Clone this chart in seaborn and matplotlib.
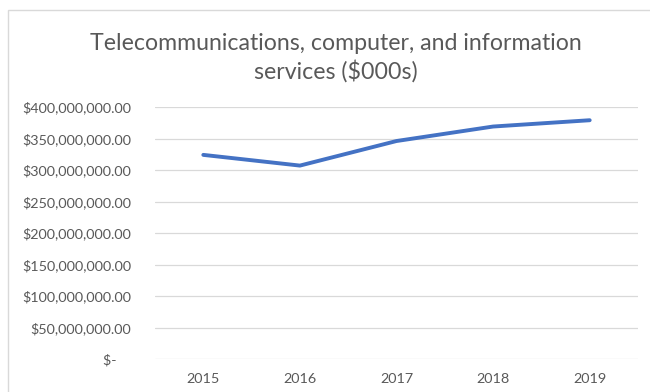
import matplotlib
matplotlib.use("Agg")
import matplotlib.pyplot as plt
import seaborn as sns
import pandas as pd
from matplotlib.patches import Rectangle
from matplotlib.ticker import FuncFormatter, MultipleLocator

years = ["2015", "2016", "2017", "2018", "2019"]
values = [324000000, 307000000, 346000000, 369000000, 379000000]
title = "Telecommunications, computer, and information\nservices ($000s)"

sns.set_theme(style="white")
plt.rcParams['font.family'] = ['Lato', 'DejaVu Sans']

df = pd.DataFrame({"year": years, "value": values})

fig = plt.figure(figsize=(6.5, 3.92), dpi=100)
ax = fig.add_axes([155/650, 1-359/392, (638-155)/650, (359-107)/392])

sns.lineplot(data=df, x="year", y="value", ax=ax, color="#4472C4",
             linewidth=2.8, solid_capstyle="round", solid_joinstyle="round")

ax.set_ylim(0, 400000000)
ax.set_xlim(-0.5, 4.5)
ax.yaxis.set_major_locator(MultipleLocator(50000000))

def fmt(v, pos):
    if v == 0:
        return "$-    "
    return "${:,.2f}".format(v)

ax.yaxis.set_major_formatter(FuncFormatter(fmt))
ax.grid(axis="y", color="#D9D9D9", linewidth=0.9)
ax.set_axisbelow(True)
for s in ax.spines.values():
    s.set_visible(False)
ax.tick_params(axis="both", length=0, labelsize=10.4, colors="#595959")
ax.tick_params(axis="y", pad=17)
ax.tick_params(axis="x", pad=10)
ax.set_xlabel("")
ax.set_ylabel("")

fig.text(0.517, 1-58/392, title, ha="center", va="center", fontsize=16.7,
         color="#595959", linespacing=1.3)

fig.patches.append(Rectangle((8/650, -0.1), 1.2, 1-10/392+0.1, transform=fig.transFigure,
                             fill=False, edgecolor="#D9D9D9", linewidth=1))

fig.savefig("out.png", dpi=100)
